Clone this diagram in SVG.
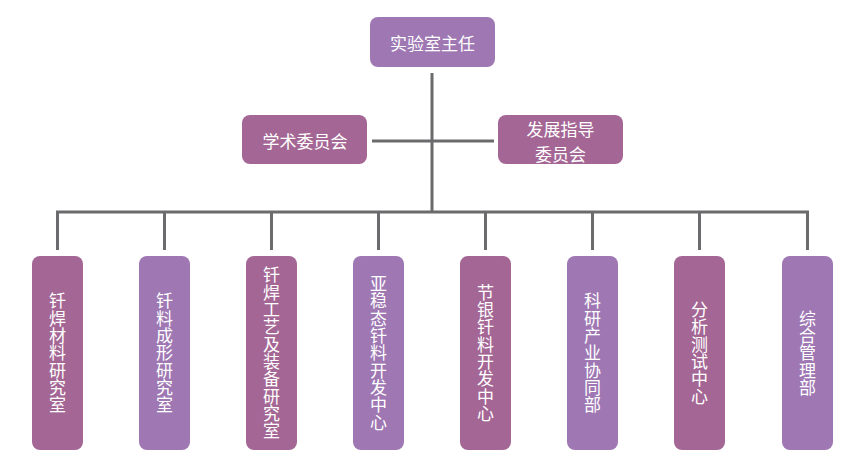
<svg xmlns="http://www.w3.org/2000/svg" width="860" height="471" viewBox="0 0 860 471">
<style>
.m{fill:#A46795}
.l{fill:#9E77B3}
.t{fill:#FFFFFF;font-family:"Noto Sans CJK SC","Noto Sans",sans-serif;font-size:17px;text-anchor:middle;dominant-baseline:central}
.v{fill:#FFFFFF;font-family:"Noto Sans CJK SC","Noto Sans",sans-serif;font-size:17px;text-anchor:middle;writing-mode:vertical-rl;letter-spacing:0.3px}
.c{stroke:#6B6B6D;stroke-width:3;fill:none}
</style>
<rect width="860" height="471" fill="#FFFFFF"/>
<g id="connectors">
<path class="c" d="M432 73V212M372 141H494M56 212H809M57.5 212V250M164.5 212V250M271.5 212V250M378.5 212V250M485.5 212V250M592.5 212V250M699.5 212V250M807.5 212V250"/>
</g>
<g id="director"><rect class="l" x="370" y="17" width="125" height="50" rx="8"/><text class="t" x="432.5" y="42">实验室主任</text></g>
<g id="academic"><rect class="m" x="242" y="115" width="125" height="49" rx="8"/><text class="t" x="305" y="140">学术委员会</text></g>
<g id="guidance"><rect class="m" x="498" y="115" width="125" height="49" rx="8"/><text class="t"><tspan x="560.5" y="128">发展指导</tspan><tspan x="560.5" y="153">委员会</tspan></text></g>
<g id="n1"><rect class="m" x="32" y="256" width="51" height="194" rx="8"/><text class="v" x="57.5" y="353">钎焊材料研究室</text></g>
<g id="n2"><rect class="l" x="139" y="256" width="51" height="194" rx="8"/><text class="v" x="164.5" y="353">钎料成形研究室</text></g>
<g id="n3"><rect class="m" x="246" y="256" width="51" height="194" rx="8"/><text class="v" x="271.5" y="353">钎焊工艺及装备研究室</text></g>
<g id="n4"><rect class="l" x="353" y="256" width="51" height="194" rx="8"/><text class="v" x="378.5" y="353">亚稳态钎料开发中心</text></g>
<g id="n5"><rect class="m" x="460" y="256" width="51" height="194" rx="8"/><text class="v" x="485.5" y="353">节银钎料开发中心</text></g>
<g id="n6"><rect class="l" x="567" y="256" width="51" height="194" rx="8"/><text class="v" x="592.5" y="353">科研产业协同部</text></g>
<g id="n7"><rect class="m" x="674" y="256" width="51" height="194" rx="8"/><text class="v" x="699.5" y="353">分析测试中心</text></g>
<g id="n8"><rect class="l" x="782" y="256" width="51" height="194" rx="8"/><text class="v" x="807.5" y="353">综合管理部</text></g>
</svg>
